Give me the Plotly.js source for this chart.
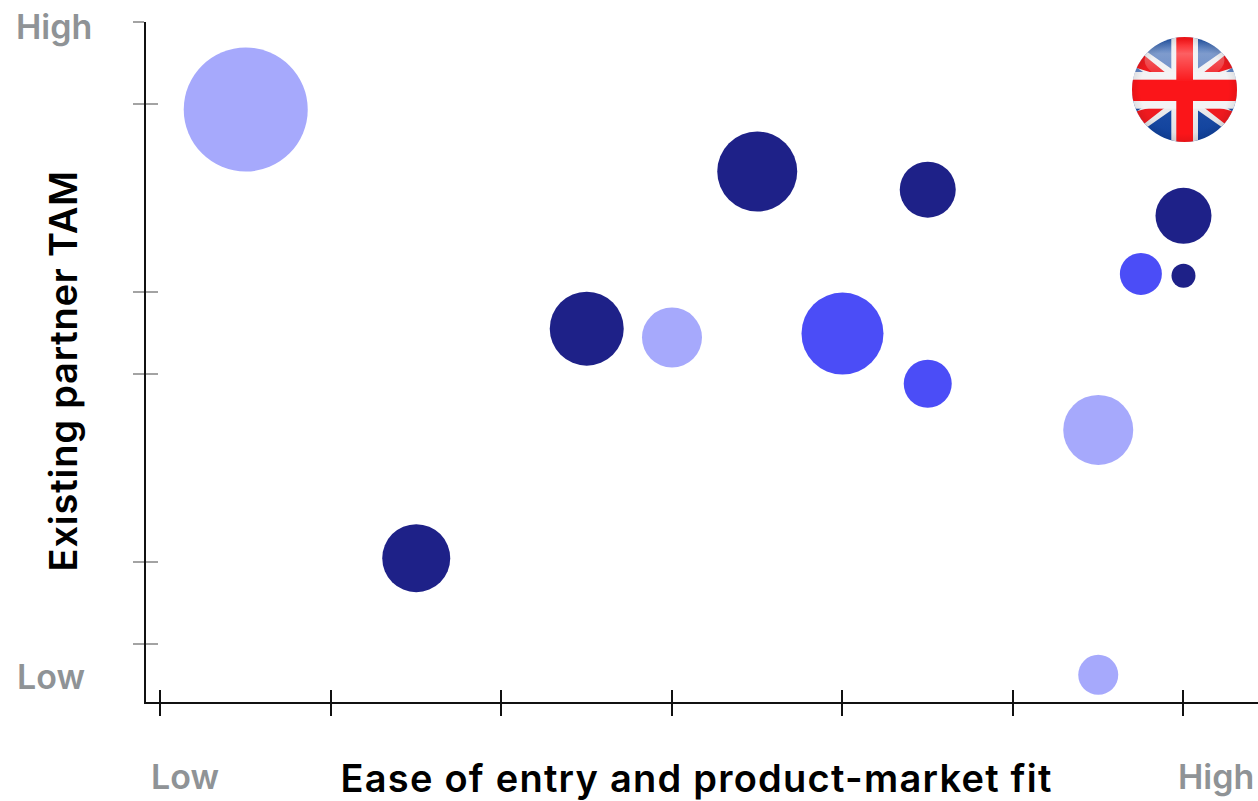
<!DOCTYPE html>
<html>
<head>
<meta charset="utf-8">
<script src="https://cdn.plot.ly/plotly-3.0.1.min.js"></script>
<style>
html,body{margin:0;padding:0;background:#fff}
.xtitle{letter-spacing:1.25px}
.ytitle{letter-spacing:0.8px}
</style>
</head>
<body>
<div id="chart" style="width:1258px;height:801px"></div>
<script>
// Market opportunity bubbles, grouped by tier
const tierDarkX = [3.5, 4.5, 6, 6, 2.5, 1.5];
const tierDarkY = [175.0, 168.3, 158.6, 136.4, 116.8, 31.8];
const tierDarkSize = [80, 56, 56, 24, 74, 68];

const tierMidX = [5.75, 4, 4.5];
const tierMidY = [137.1, 115.0, 96.4];
const tierMidSize = [42, 82, 48];

const tierLightX = [0.5, 3, 5.5, 5.5];
const tierLightY = [198, 113.5, 79.3, -11.4];
const tierLightSize = [124, 60, 70, 40];

const xTicks = [0, 1, 2, 3, 4, 5, 6];
const yTicks = [0, 30.4, 100, 130.4, 200, 230.4];

const DARK = '#1E2188', MID = '#4B4DF7', LIGHT = '#A6A9FC';
const GREY = '#8F9396';
const FONT = 'Inter, sans-serif';
const W = 1258, H = 801, L = 146, B = 99, T = 22;

const xRange = [-0.085, 6.437];
const yRange = [-21.48, 230.4];

// Convert page pixels to paper fractions for the corner labels and flag
const paperX = p => (p - L) / (W - L);
const paperY = p => (H - B - p) / (H - B - T);

function bubbles(x, y, size, color, name) {
  return {
    type: 'scatter', mode: 'markers', x, y, name,
    cliponaxis: false, hoverinfo: 'skip',
    marker: { size, sizemode: 'diameter', sizeref: 1, color, opacity: 1, line: { width: 0 } }
  };
}

// Glossy round Union Flag badge, drawn as an inline SVG
const flagSvg = `<svg xmlns="http://www.w3.org/2000/svg" width="315" height="315" viewBox="0 0 105 105">
<defs>
<clipPath id="c"><circle cx="52.5" cy="52.5" r="52.5"/></clipPath>
<linearGradient id="blue" x1="0" y1="0" x2="0" y2="1">
<stop offset="0" stop-color="#2456a8"/><stop offset="0.4" stop-color="#6f8fca"/>
<stop offset="0.6" stop-color="#1f50a8"/><stop offset="1" stop-color="#0e3f9a"/></linearGradient>
<linearGradient id="gloss" x1="0" y1="0" x2="0" y2="1">
<stop offset="0" stop-color="#fff" stop-opacity="0"/><stop offset="0.35" stop-color="#fff" stop-opacity="0.32"/>
<stop offset="1" stop-color="#fff" stop-opacity="0.02"/></linearGradient>
<linearGradient id="white" x1="0" y1="0" x2="0" y2="1">
<stop offset="0" stop-color="#e8e8ec"/><stop offset="0.5" stop-color="#f6f6f7"/><stop offset="1" stop-color="#dcdcdf"/></linearGradient>
<radialGradient id="edge" cx="0.5" cy="0.5" r="0.5">
<stop offset="0.84" stop-color="#000" stop-opacity="0"/><stop offset="1" stop-color="#000" stop-opacity="0.08"/></radialGradient>
</defs>
<g clip-path="url(#c)">
<rect width="105" height="105" fill="url(#blue)"/>
<path d="M0 4.3 L105 77.8 L105 100.7 L0 27.2 Z M105 4.3 L0 77.8 L0 100.7 L105 27.2 Z" fill="url(#white)"/>
<path d="M-2 29 L8 15 L32.7 35 L17.7 35 Z M107 29 L97 15 L72.3 35 L87.3 35 Z M-2 76 L8 90 L32.7 70.7 L17.7 70.7 Z M107 76 L97 90 L72.3 70.7 L87.3 70.7 Z" fill="#ef1a1f"/>
<rect x="39.3" width="26.7" height="105" fill="url(#white)"/>
<rect y="35" width="105" height="36.7" fill="#f3f3f5"/>
<rect x="44.3" width="16.7" height="105" fill="#fb1519"/>
<rect y="42.7" width="105" height="21.3" fill="#fb1519"/>
<ellipse cx="52.5" cy="23" rx="40" ry="21" fill="url(#gloss)"/>
<circle cx="52.5" cy="52.5" r="52.5" fill="url(#edge)"/>
</g></svg>`;

const traces = [
  bubbles(tierLightX, tierLightY, tierLightSize, LIGHT, 'Tier 3'),
  bubbles(tierMidX, tierMidY, tierMidSize, MID, 'Tier 2'),
  bubbles(tierDarkX, tierDarkY, tierDarkSize, DARK, 'Tier 1'),
  // Carries the second axis pair, which draws the inner half of each tick
  { type: 'scatter', mode: 'markers', x: [], y: [], xaxis: 'x2', yaxis: 'y2', showlegend: false, hoverinfo: 'skip' }
];

const cornerFont = { family: FONT, size: 34, color: GREY, weight: 600 };
function corner(text, cx, cy) {
  return { text, xref: 'paper', yref: 'paper', x: paperX(cx), y: paperY(cy),
           xanchor: 'center', yanchor: 'middle', showarrow: false, font: cornerFont };
}

const layout = {
  width: W, height: H,
  margin: { l: L, r: 0, t: T, b: B, pad: 0 },
  paper_bgcolor: '#fff', plot_bgcolor: '#fff',
  showlegend: false,
  xaxis: {
    range: xRange, tickmode: 'array', tickvals: xTicks, ticktext: xTicks.map(() => ''),
    ticks: 'outside', ticklen: 12, tickwidth: 2, tickcolor: '#111',
    showgrid: false, zeroline: false, showline: true, linecolor: '#111', linewidth: 2,
    title: { text: 'Ease of entry and product-market fit\u00A0\u200B', standoff: 49,
             font: { family: FONT, size: 38, color: '#000', weight: 600 } }
  },
  yaxis: {
    range: yRange, tickmode: 'array', tickvals: yTicks, ticktext: yTicks.map(() => ''),
    ticks: 'outside', ticklen: 11, tickwidth: 2, tickcolor: '#a3a3a3',
    showgrid: false, zeroline: false, showline: true, linecolor: '#111', linewidth: 2,
    title: { text: 'Existing partner TAM\u00A0\u2009\u200B', standoff: 41,
             font: { family: FONT, size: 38, color: '#000', weight: 600 } }
  },
  xaxis2: {
    overlaying: 'x', anchor: 'y', side: 'bottom', range: xRange, tickmode: 'array', tickvals: xTicks,
    ticktext: xTicks.map(() => ''), ticks: 'inside', ticklen: 12, tickwidth: 2, tickcolor: '#111',
    showgrid: false, zeroline: false, showline: false
  },
  yaxis2: {
    overlaying: 'y', anchor: 'x', side: 'left', range: yRange, tickmode: 'array', tickvals: yTicks,
    ticktext: yTicks.map(() => ''), ticks: 'inside', ticklen: 12, tickwidth: 2, tickcolor: '#a3a3a3',
    showgrid: false, zeroline: false, showline: false
  },
  annotations: [
    corner('High', 54, 27),
    corner('Low', 51, 676),
    corner('Low', 185, 776),
    corner('High', 1216, 776)
  ],
  images: [{
    source: 'data:image/svg+xml;charset=utf-8,' + encodeURIComponent(flagSvg),
    xref: 'paper', yref: 'paper', x: paperX(1132), y: paperY(37),
    sizex: 105 / (W - L), sizey: 105 / (H - B - T),
    xanchor: 'left', yanchor: 'top', sizing: 'stretch', layer: 'above'
  }]
};

Plotly.newPlot('chart', traces, layout, { displayModeBar: false, responsive: false });
</script>
</body>
</html>
